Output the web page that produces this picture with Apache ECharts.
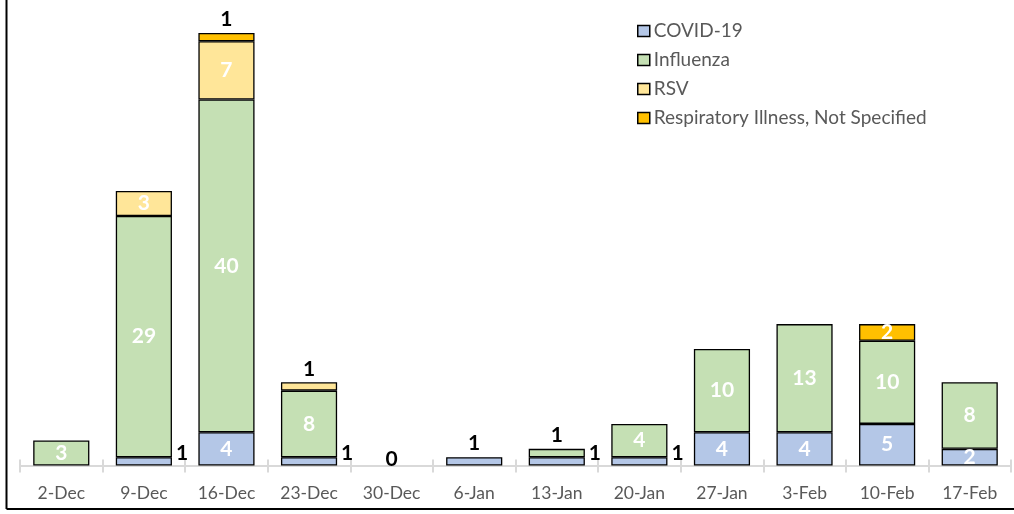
<!DOCTYPE html>
<html>
<head>
<meta charset="utf-8">
<script src="https://cdn.jsdelivr.net/npm/echarts@6/dist/echarts.min.js"></script>
<style>
html,body{margin:0;padding:0;background:#fff;}
#chart{width:1014px;height:514px;}
</style>
</head>
<body>
<div id="chart"></div>
<script>
var categories = ['2-Dec','9-Dec','16-Dec','23-Dec','30-Dec','6-Jan','13-Jan','20-Jan','27-Jan','3-Feb','10-Feb','17-Feb'];
var seriesNames = ['COVID-19','Influenza','RSV','Respiratory Illness, Not Specified'];
var covid    = [0, 1, 4, 1, 0, 1, 1, 1, 4, 4, 5, 2];
var influenza= [3, 29, 40, 8, 0, 0, 1, 4, 10, 13, 10, 8];
var rsv      = [0, 3, 7, 1, 0, 0, 0, 0, 0, 0, 0, 0];
var respNS   = [0, 0, 1, 0, 0, 0, 0, 0, 0, 0, 2, 0];
var colors = ['#B4C7E7','#C5E0B4','#FFE699','#FFC000'];

var all = [covid, influenza, rsv, respNS];
var FONT = 'Lato';

function itemFor(si, ci) {
  var v = all[si][ci];
  var total = covid[ci] + influenza[ci] + rsv[ci] + respNS[ci];
  if (v === 0) {
    if (total === 0 && si === 0) {
      return {value: 0, itemStyle: {borderWidth: 0},
        label: {show: true, position: 'inside', offset: [0, -6], color: '#000', fontWeight: 'bold', fontSize: 21, fontFamily: FONT}};
    }
    return {value: '-'};
  }
  var lbl;
  if (v >= 2) {
    lbl = {show: true, position: 'inside', color: '#fff', fontWeight: 'bold', fontSize: 21, fontFamily: FONT};
  } else {
    var above = 0;
    for (var k = si + 1; k < all.length; k++) above += all[k][ci];
    if (above > 0) {
      lbl = {show: true, position: 'right', distance: 4, offset: [0, -8], color: '#000', fontWeight: 'bold', fontSize: 21, fontFamily: FONT};
    } else {
      lbl = {show: true, position: 'top', distance: 3, color: '#000', fontWeight: 'bold', fontSize: 21, fontFamily: FONT};
    }
  }
  return {value: v, label: lbl};
}

var series = seriesNames.map(function (name, si) {
  return {
    name: name,
    type: 'bar',
    stack: 'total',
    barCategoryGap: '32%',
    xAxisIndex: 0,
    itemStyle: {color: colors[si], borderColor: '#000', borderWidth: 1.3},
    emphasis: {disabled: true},
    data: categories.map(function (c, ci) { return itemFor(si, ci); })
  };
});

var chart = echarts.init(document.getElementById('chart'));
chart.setOption({
  animation: false,
  backgroundColor: '#fff',
  grid: {left: 20, right: 3, top: 8, bottom: 48.5},
  legend: {
    orient: 'vertical',
    left: 637, top: 21,
    padding: 0,
    itemWidth: 12, itemHeight: 11,
    itemGap: 9,
    itemStyle: {borderColor: '#000', borderWidth: 1.5},
    textStyle: {color: '#595959', fontSize: 19, fontFamily: FONT, lineHeight: 20, padding: [0, 0, 0, -1]},
    data: seriesNames.map(function (n) { return {name: n, icon: 'rect'}; })
  },
  xAxis: [{
    type: 'category',
    data: categories,
    axisLine: {lineStyle: {color: '#D9D9D9', width: 2}},
    axisTick: {show: true, length: 7, lineStyle: {color: '#D9D9D9', width: 2}},
    axisLabel: {color: '#595959', fontSize: 17.5, fontFamily: FONT, margin: 19}
  }, {
    type: 'category',
    data: categories,
    position: 'bottom',
    axisLine: {show: false},
    axisTick: {show: true, inside: true, length: 6, lineStyle: {color: '#D9D9D9', width: 2}},
    axisLabel: {show: false}
  }],
  yAxis: {
    type: 'value', min: 0, max: 55, show: false,
    splitLine: {show: false}
  },
  graphic: [
    {type: 'line', shape: {x1: 6.5, y1: 0, x2: 6.5, y2: 509}, style: {stroke: '#000', lineWidth: 2}},
    {type: 'line', shape: {x1: 6.5, y1: 509, x2: 1014, y2: 509}, style: {stroke: '#000', lineWidth: 2}}
  ],
  series: series
});
</script>
</body>
</html>
